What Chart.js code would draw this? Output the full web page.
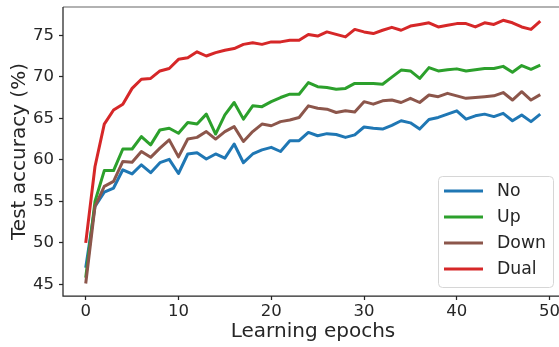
<!DOCTYPE html>
<html>
<head>
<meta charset="utf-8">
<script src="https://cdn.jsdelivr.net/npm/chart.js@4"></script>
<style>
html, body { margin: 0; padding: 0; overflow: hidden; background: #fff; }
</style>
</head>
<body>
<canvas id="acc" width="564" height="347"></canvas>
<script>
var epochs = [0,1,2,3,4,5,6,7,8,9,10,11,12,13,14,15,16,17,18,19,20,21,22,23,24,25,26,27,28,29,30,31,32,33,34,35,36,37,38,39,40,41,42,43,44,45,46,47,48,49];

var accNo = [47.0,54.4,56.1,56.6,58.8,58.3,59.4,58.45,59.65,60.06,58.35,60.7,60.85,60.1,60.7,60.2,61.9,59.65,60.7,61.2,
  61.5,61.0,62.3,62.3,63.3,62.9,63.15,63.05,62.7,63.0,63.95,63.8,63.7,64.15,64.7,64.45,63.7,64.85,65.1,65.5,
  65.9,64.9,65.3,65.5,65.2,65.6,64.7,65.4,64.6,65.5];
var accUp = [45.8,55.0,58.7,58.7,61.3,61.3,62.8,61.8,63.6,63.8,63.2,64.5,64.3,65.5,63.1,65.4,66.9,64.9,66.5,66.4,
  67.0,67.5,67.9,67.9,69.3,68.8,68.7,68.5,68.6,69.2,69.2,69.2,69.1,69.95,70.8,70.7,69.8,71.1,70.7,70.85,
  70.95,70.7,70.85,71.0,71.0,71.25,70.55,71.35,70.9,71.4];
var accDown = [45.1,54.4,56.8,57.4,59.8,59.7,61.0,60.3,61.4,62.4,60.35,62.5,62.7,63.4,62.5,63.4,64.0,62.2,63.4,64.3,
  64.1,64.6,64.8,65.1,66.5,66.2,66.1,65.7,65.9,65.75,67.0,66.7,67.1,67.2,66.9,67.4,66.9,67.8,67.6,68.0,
  67.7,67.4,67.5,67.6,67.7,68.1,67.2,68.2,67.2,67.85];
var accDual = [50.0,59.2,64.3,66.0,66.7,68.6,69.7,69.8,70.7,71.0,72.1,72.3,73.0,72.5,72.9,73.2,73.4,73.9,74.1,73.9,
  74.2,74.2,74.4,74.4,75.1,74.9,75.4,75.1,74.8,75.7,75.4,75.2,75.6,75.95,75.6,76.1,76.3,76.5,76.0,76.2,
  76.4,76.4,76.0,76.5,76.3,76.8,76.5,76.0,75.7,76.7];

var seriesNames = ['No', 'Up', 'Down', 'Dual'];
var seriesColors = ['#1f77b4', '#2ca02c', '#8c564b', '#d62728'];
var xTicks = [0, 10, 20, 30, 40, 50];
var yTicks = [45, 50, 55, 60, 65, 70, 75];

var textColor = '#262626';
var fontFamily = '"DejaVu Sans", sans-serif';

function toPoints(vals) {
    let pts = [];
    for (let i = 0; i < vals.length; i++) {
        pts.push({x: epochs[i], y: vals[i]});
    }
    return pts;
};

var allSeries = [accNo, accUp, accDown, accDual];
var datasets = [];
for (let i = 0; i < allSeries.length; i++) {
    datasets.push({
        label: seriesNames[i],
        data: toPoints(allSeries[i]),
        borderColor: seriesColors[i],
        backgroundColor: seriesColors[i],
        borderWidth: 3,
        pointRadius: 0,
        tension: 0,
        fill: false,
        borderJoinStyle: 'round',
        order: allSeries.length - i
    });
};

// top spine + boxed legend in the lower right corner
var framePlugin = {
    id: 'frame',
    afterDatasetsDraw(chart) {
        const ctx = chart.ctx, a = chart.chartArea;
        ctx.save();
        ctx.strokeStyle = '#999999';
        ctx.lineWidth = 1.5;
        ctx.beginPath();
        ctx.moveTo(a.left, a.top);
        ctx.lineTo(a.right, a.top);
        ctx.stroke();
        ctx.strokeStyle = textColor;
        ctx.lineWidth = 1.25;
        ctx.beginPath();
        ctx.moveTo(a.left, a.top);
        ctx.lineTo(a.left, a.bottom);
        ctx.lineTo(a.right, a.bottom);
        ctx.stroke();
        ctx.restore();
    },
    afterDraw(chart) {
        const ctx = chart.ctx, a = chart.chartArea;
        const w = 115, h = 111;
        const x0 = a.right - 10 - w, y0 = a.bottom - 9 - h;
        ctx.save();
        ctx.beginPath();
        if (ctx.roundRect) {
            ctx.roundRect(x0 + 0.5, y0 + 0.5, w, h, 4);
        } else {
            ctx.rect(x0 + 0.5, y0 + 0.5, w, h);
        }
        ctx.fillStyle = 'rgba(255,255,255,0.8)';
        ctx.fill();
        ctx.strokeStyle = '#d6d6d6';
        ctx.lineWidth = 1;
        ctx.stroke();
        ctx.font = '17.3px ' + fontFamily;
        ctx.textBaseline = 'middle';
        ctx.textAlign = 'left';
        chart.data.datasets.forEach(function(ds, i) {
            const y = y0 + 15 + 26 * i;
            ctx.strokeStyle = ds.borderColor;
            ctx.lineWidth = 3;
            ctx.beginPath();
            ctx.moveTo(x0 + 6, y);
            ctx.lineTo(x0 + 45, y);
            ctx.stroke();
            ctx.fillStyle = textColor;
            ctx.fillText(ds.label, x0 + 59, y + 1);
        });
        ctx.restore();
    }
};

new Chart(document.getElementById('acc'), {
    type: 'line',
    data: { datasets: datasets },
    options: {
        responsive: false,
        animation: false,
        layout: { padding: { top: 7, right: 1, left: 0, bottom: 0 } },
        plugins: {
            legend: { display: false },
            tooltip: { enabled: false }
        },
        scales: {
            x: {
                type: 'linear',
                min: -2.45,
                max: 51.45,
                afterBuildTicks: function(scale) {
                    scale.ticks = xTicks.map(function(v) { return {value: v}; });
                },
                afterFit: function(scale) {
                    scale.height = 51;
                    scale.paddingLeft = 0;
                    scale.paddingRight = 0;
                },
                border: { display: false },
                grid: {
                    display: true,
                    drawOnChartArea: false,
                    drawTicks: true,
                    tickLength: 4,
                    tickColor: textColor,
                    tickWidth: 1.25
                },
                ticks: {
                    color: textColor,
                    font: { family: fontFamily, size: 16.5 },
                    padding: 2,
                    maxRotation: 0
                },
                title: {
                    display: true,
                    text: 'Learning epochs',
                    color: textColor,
                    font: { family: fontFamily, size: 20 },
                    padding: { top: 0, bottom: 3 }
                }
            },
            y: {
                min: 43.6,
                max: 78.4,
                afterBuildTicks: function(scale) {
                    scale.ticks = yTicks.map(function(v) { return {value: v}; });
                },
                afterFit: function(scale) {
                    scale.width = 63;
                    scale.paddingTop = 0;
                    scale.paddingBottom = 0;
                },
                border: { display: false },
                grid: {
                    display: true,
                    drawOnChartArea: false,
                    drawTicks: true,
                    tickLength: 4,
                    tickColor: textColor,
                    tickWidth: 1.25
                },
                ticks: {
                    color: textColor,
                    font: { family: fontFamily, size: 16.5 },
                    padding: 5
                },
                title: {
                    display: true,
                    text: 'Test accuracy (%)',
                    color: textColor,
                    font: { family: fontFamily, size: 20 },
                    padding: { top: 8, bottom: 0 }
                }
            }
        }
    },
    plugins: [framePlugin]
});
</script>
</body>
</html>
